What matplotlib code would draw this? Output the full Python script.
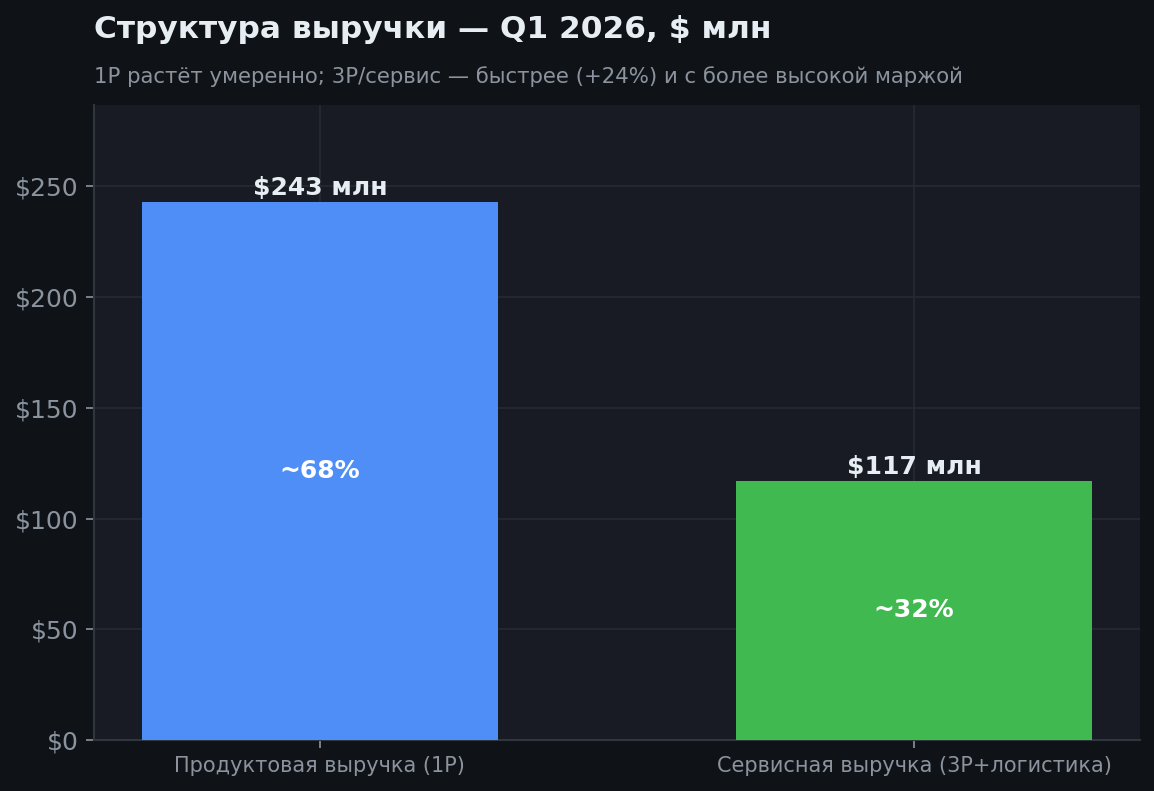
import matplotlib
matplotlib.use("Agg")
import matplotlib.pyplot as plt

categories = ["Продуктовая выручка (1P)", "Сервисная выручка (3P+логистика)"]
values = [243, 117]
shares = ["~68%", "~32%"]
value_labels = ["$243 млн", "$117 млн"]
yticks = [0, 50, 100, 150, 200, 250]
ytick_labels = ["$0", "$50", "$100", "$150", "$200", "$250"]
title = "Структура выручки — Q1 2026, $ млн"
subtitle = "1P растёт умеренно; 3P/сервис — быстрее (+24%) и с более высокой маржой"

BG = "#0f1317"
AX_BG = "#181b23"
GRID = "#262a33"
SPINE = "#30363d"
TXT = "#e6edf3"
MUTED = "#8b949e"
colors = ["#4f8ef7", "#3fb950"]

plt.rcParams['font.family'] = ['DejaVu Sans']

dpi = 150
fig = plt.figure(figsize=(1154 / dpi, 791 / dpi), dpi=dpi, facecolor=BG)
ax = fig.add_axes([94 / 1154, 1 - 740 / 791, (1140 - 94) / 1154, (740 - 105) / 791])
ax.set_facecolor(AX_BG)

x = list(range(len(categories)))
bars = ax.bar(x, values, width=0.6, color=colors, zorder=3)

ax.set_ylim(0, max(values) * 1.18)
ax.set_yticks(yticks)
ax.set_yticklabels(ytick_labels)
ax.set_xticks(x)
ax.set_xticklabels(categories)

ax.grid(True, color=GRID, linewidth=0.8, zorder=0)
ax.set_axisbelow(True)
for s in ["top", "right"]:
    ax.spines[s].set_visible(False)
for s in ["left", "bottom"]:
    ax.spines[s].set_color(SPINE)
    ax.spines[s].set_linewidth(1.0)

ax.tick_params(axis="y", colors=MUTED, labelsize=12, length=4, color=MUTED, width=0.8)
ax.tick_params(axis="x", colors=MUTED, labelsize=10, length=4, color=MUTED, width=0.8)

for b, v, lab, sh in zip(bars, values, value_labels, shares):
    cx = b.get_x() + b.get_width() / 2
    ax.annotate(lab, (cx, v), xytext=(0, 1), textcoords="offset points",
                ha="center", va="bottom", color=TXT, fontsize=12, fontweight="bold")
    ax.text(cx, v / 2, sh, ha="center", va="center", color="white",
            fontsize=12, fontweight="bold")

fig.text(94 / 1154, 1 - 29 / 791, title, ha="left", va="center",
         color=TXT, fontsize=15, fontweight="bold")
fig.text(94 / 1154, 1 - 77 / 791, subtitle, ha="left", va="center",
         color=MUTED, fontsize=10.2)

fig.savefig("out.png", dpi=dpi, facecolor=BG)
